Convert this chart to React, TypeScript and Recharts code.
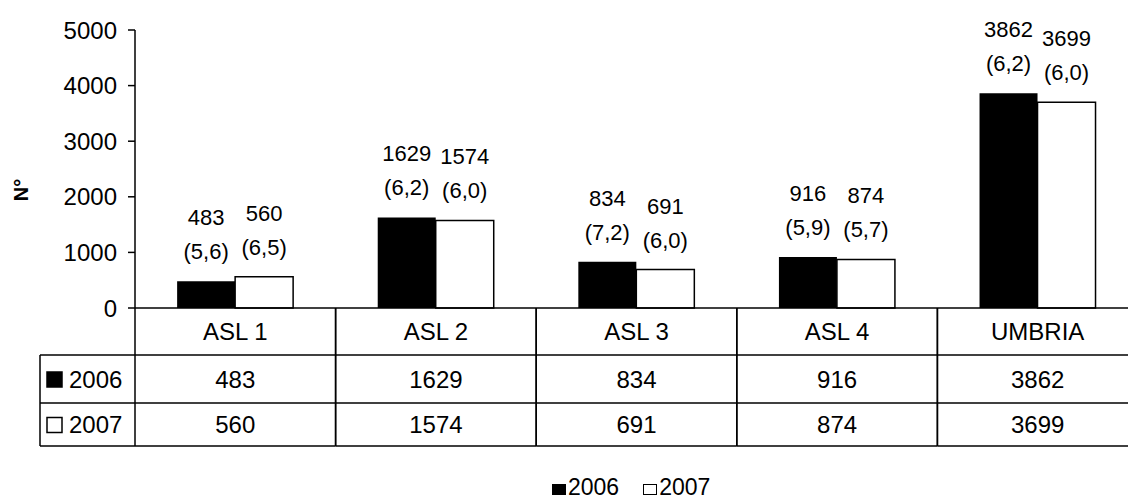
import { BarChart, Bar, XAxis, YAxis, Legend, LabelList, Label } from "recharts";

// values
const categories = ["ASL 1", "ASL 2", "ASL 3", "ASL 4", "UMBRIA"];
const cases2006 = [483, 1629, 834, 916, 3862];
const cases2007 = [560, 1574, 691, 874, 3699];
const rate2006 = ["5,6", "6,2", "7,2", "5,9", "6,2"];
const rate2007 = ["6,5", "6,0", "6,0", "5,7", "6,0"];
const yTicks = [0, 1000, 2000, 3000, 4000, 5000];
const seriesNames = ["2006", "2007"];
const yLabel = "N°";

const FONT = '"Liberation Sans", Arial, sans-serif';
const ROW_H = [47, 48, 43];
const ROW_HEAD_X = 40;
const PLOT_W = 1003;

const data = categories.map((name, i) => ({
  name,
  y2006: cases2006[i],
  y2007: cases2007[i],
}));

function Swatch({ x, y, size, filled }: { x: number; y: number; size: number; filled: boolean }) {
  return (
    <rect
      x={x}
      y={y}
      width={size}
      height={size}
      fill={filled ? "#000" : "#fff"}
      stroke="#000"
      strokeWidth={1.5}
    />
  );
}

// the x axis tick draws the whole data table column for its category
function TableTick(props: any) {
  const { x, y, payload, index, width } = props;
  const i = payload?.index ?? index ?? 0;
  const half = (width && width > 0 ? width : PLOT_W) / categories.length / 2;
  const left = x - half;
  const right = x + half;
  const r1 = y + ROW_H[0];
  const r2 = r1 + ROW_H[1];
  const r3 = r2 + ROW_H[2];
  const line = { stroke: "#000", strokeWidth: 1.5 };
  const txt = { fontSize: 24, fontFamily: FONT, fill: "#000", textAnchor: "middle" as const, dy: "0.36em" };

  return (
    <g>
      <line x1={left} y1={y} x2={left} y2={r3} {...line} />
      <line x1={right} y1={y} x2={right} y2={r3} {...line} />
      <line x1={left} y1={r1} x2={right} y2={r1} {...line} />
      <line x1={left} y1={r2} x2={right} y2={r2} {...line} />
      <line x1={left} y1={r3} x2={right} y2={r3} {...line} />
      <text x={x} y={y + ROW_H[0] / 2} {...txt}>{payload.value}</text>
      <text x={x} y={r1 + ROW_H[1] / 2} {...txt}>{cases2006[i]}</text>
      <text x={x} y={r2 + ROW_H[2] / 2} {...txt}>{cases2007[i]}</text>
      {i === 0 && (
        <g>
          <line x1={ROW_HEAD_X} y1={r1} x2={ROW_HEAD_X} y2={r3} {...line} />
          <line x1={ROW_HEAD_X} y1={r1} x2={left} y2={r1} {...line} />
          <line x1={ROW_HEAD_X} y1={r2} x2={left} y2={r2} {...line} />
          <line x1={ROW_HEAD_X} y1={r3} x2={left} y2={r3} {...line} />
          <Swatch x={ROW_HEAD_X + 7} y={r1 + ROW_H[1] / 2 - 7} size={15} filled />
          <Swatch x={ROW_HEAD_X + 7} y={r2 + ROW_H[2] / 2 - 7} size={15} filled={false} />
          <text x={ROW_HEAD_X + 29} y={r1 + ROW_H[1] / 2} {...txt} textAnchor="start">{seriesNames[0]}</text>
          <text x={ROW_HEAD_X + 29} y={r2 + ROW_H[2] / 2} {...txt} textAnchor="start">{seriesNames[1]}</text>
        </g>
      )}
    </g>
  );
}

function makeBarLabel(rates: string[]) {
  return (props: any) => {
    const { x, y, width, value, index } = props;
    const cx = Number(x) + Number(width) / 2;
    const style = { fontSize: 22, fontFamily: FONT, fill: "#000", textAnchor: "middle" as const };
    return (
      <g>
        <text x={cx} y={Number(y) - 56} {...style}>{value}</text>
        <text x={cx} y={Number(y) - 22} {...style}>({rates[index]})</text>
      </g>
    );
  };
}

function LegendBox() {
  const sq = (filled: boolean) => (
    <span
      style={{
        display: "inline-block",
        width: 14,
        height: 11,
        background: filled ? "#000" : "#fff",
        border: filled ? "none" : "1.5px solid #000",
        boxSizing: "border-box",
        marginRight: 2,
        verticalAlign: "baseline",
      }}
    />
  );
  return (
    <div
      style={{
        paddingTop: 30,
        paddingLeft: 552,
        fontFamily: FONT,
        fontSize: 23,
        lineHeight: "23px",
        height: 23,
        color: "#000",
        whiteSpace: "nowrap",
      }}
    >
      {sq(true)}
      {seriesNames[0]}
      <span style={{ display: "inline-block", width: 24 }} />
      {sq(false)}
      {seriesNames[1]}
    </div>
  );
}

export default function App() {
  return (
    <div
      style={{
        position: "absolute",
        left: 0,
        top: 0,
        width: 1128,
        height: 502,
        overflow: "hidden",
        background: "#fff",
      }}
    >
      <BarChart
        width={1140}
        height={502}
        data={data}
        margin={{ top: 30, right: 2, left: 0, bottom: 0 }}
        barCategoryGap="21%"
        barGap={0}
      >
        <XAxis
          dataKey="name"
          height={138}
          interval={0}
          tickLine={false}
          tickSize={0}
          tickMargin={0}
          axisLine={{ stroke: "#000", strokeWidth: 1.5 }}
          tick={<TableTick />}
        />
        <YAxis
          width={135}
          domain={[0, 5000]}
          ticks={yTicks}
          interval={0}
          tickSize={7}
          tickMargin={11}
          tickLine={{ stroke: "#000", strokeWidth: 1.5 }}
          axisLine={{ stroke: "#000", strokeWidth: 1.5 }}
          tick={{ fontSize: 24, fontFamily: FONT, fill: "#000" }}
        >
          <Label
            content={(p: any) => {
              const vb = p.viewBox || { x: 0, y: 30, width: 135, height: 278 };
              const lx = vb.x + 21;
              const ly = vb.y + vb.height / 2 + 21;
              return (
                <text
                  x={lx}
                  y={ly}
                  transform={`rotate(-90 ${lx} ${ly})`}
                  textAnchor="middle"
                  dy="0.35em"
                  fontSize={20}
                  fontWeight="bold"
                  fontFamily={FONT}
                  fill="#000"
                >
                  {yLabel}
                </text>
              );
            }}
          />
        </YAxis>
        <Legend verticalAlign="bottom" height={56} content={() => <LegendBox />} />
        <Bar dataKey="y2006" name={seriesNames[0]} fill="#000" isAnimationActive={false}>
          <LabelList dataKey="y2006" content={makeBarLabel(rate2006)} />
        </Bar>
        <Bar
          dataKey="y2007"
          name={seriesNames[1]}
          fill="#fff"
          stroke="#000"
          strokeWidth={1.5}
          isAnimationActive={false}
        >
          <LabelList dataKey="y2007" content={makeBarLabel(rate2007)} />
        </Bar>
      </BarChart>
    </div>
  );
}
